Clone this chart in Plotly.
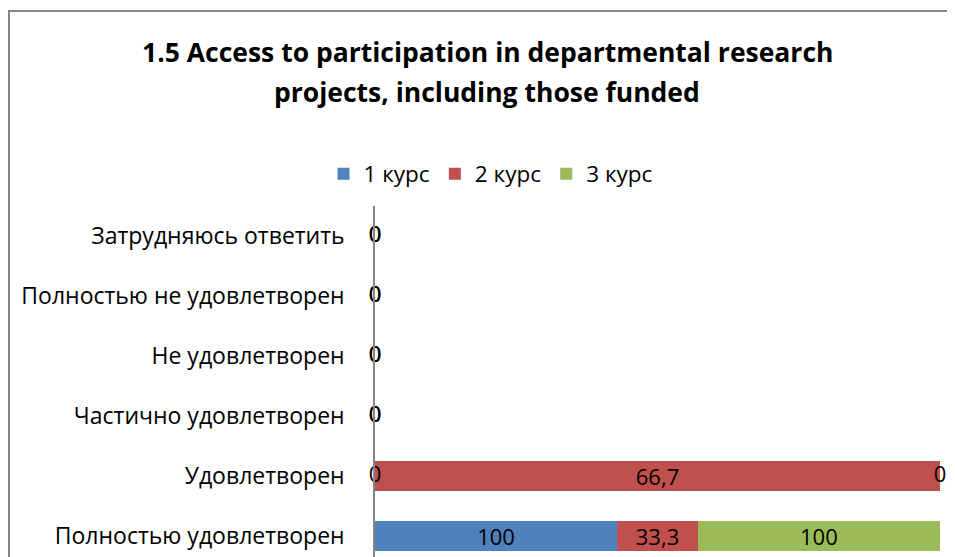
import plotly.graph_objects as go

categories = ["Полностью удовлетворен", "Удовлетворен", "Частично удовлетворен",
              "Не удовлетворен", "Полностью не удовлетворен", "Затрудняюсь ответить"]
series_names = ["1 курс", "2 курс", "3 курс"]
kurs1 = [100, 0, 0, 0, 0, 0]
kurs2 = [33.3, 66.7, 0, 0, 0, 0]
kurs3 = [100, 0, 0, 0, 0, 0]
colors = ["#4F81BD", "#C0504D", "#9BBB59"]
title_lines = ["1.5 Access to participation in departmental research",
               "projects, including those funded"]

series = [kurs1, kurs2, kurs3]

def fmt(v):
    return ("%g" % v).replace(".", ",")

# page has an 8px body margin; figure coordinates below are page coords - 8
OFF = 8
W, H = 955 - OFF, 557 - OFF
FONT = "Open Sans"
LBL = 22

fig = go.Figure()
for name, vals, col in zip(series_names, series, colors):
    fig.add_trace(go.Bar(
        y=categories, x=vals, name=name, orientation="h",
        marker=dict(color=col, line=dict(width=0)),
        text=[fmt(v) if v else "" for v in vals],
        textposition="inside", insidetextanchor="middle", constraintext="none",
        textfont=dict(family=FONT, size=LBL, color="#000000"),
        hoverinfo="skip",
    ))

# zero-value labels at their stacked positions (percent-normalised)
zx, zy, zt = [], [], []
for i, cat in enumerate(categories):
    total = sum(s[i] for s in series)
    cum = 0.0
    for s in series:
        v = s[i]
        pct = (v / total * 100) if total else 0
        if v == 0:
            zx.append(cum)
            zy.append(cat)
            zt.append(fmt(v))
        cum += pct
fig.add_trace(go.Scatter(
    x=zx, y=zy, text=zt, mode="text", showlegend=False,
    textfont=dict(family=FONT, size=LBL, color="#000000"),
    textposition="middle center", hoverinfo="skip", cliponaxis=False,
))

L, R, T = 375 - OFF, 15, 206 - OFF
PW, PH = W - L - R, H - T

annotations = []
for line, ypage in zip(title_lines, [52, 92]):
    annotations.append(dict(
        text="<b>%s</b>" % line, xref="paper", yref="paper",
        x=((487 - OFF) - L) / PW, y=(H - (ypage - OFF)) / PH,
        xanchor="center", yanchor="middle",
        showarrow=False, font=dict(family=FONT, size=26.5, color="#000000"),
    ))

fig.update_layout(
    width=W, height=H,
    barmode="stack", barnorm="percent", bargap=0.49,
    paper_bgcolor="white", plot_bgcolor="white",
    margin=dict(l=L, r=R, t=T, b=0),
    annotations=annotations,
    legend=dict(
        orientation="h", x=(491 - OFF) / W, xanchor="center", y=1 - (174 - OFF) / H, yanchor="middle",
        yref="container", xref="container",
        font=dict(family=FONT, size=22.5, color="#000000"),
        traceorder="normal", itemclick=False,
    ),
    xaxis=dict(range=[0, 100], visible=False, fixedrange=True),
    yaxis=dict(
        categoryorder="array", categoryarray=categories,
        range=[-0.35, 5.5], showline=True, linecolor="#868686", linewidth=1.5,
        showgrid=False, ticks="", ticklabelstandoff=24,
        tickfont=dict(family=FONT, size=23, color="#000000"),
        zeroline=False, fixedrange=True,
    ),
    showlegend=True,
    shapes=[dict(type="rect", xref="paper", yref="paper",
                 x0=(1 - L) / PW, x1=1.2,
                 y0=-0.5, y1=(H - (11 - OFF)) / PH,
                 line=dict(color="#868686", width=2), fillcolor="rgba(0,0,0,0)", layer="below")],
)

fig.write_html("out.html")
